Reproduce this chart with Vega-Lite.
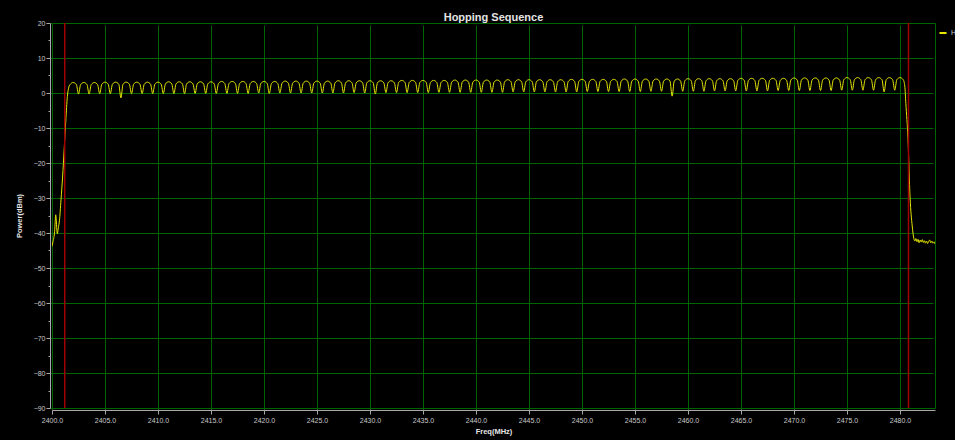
{
  "$schema": "https://vega.github.io/schema/vega-lite/v6.json",
  "autosize": "none",
  "width": 883,
  "height": 385,
  "padding": {"left": 52, "top": 23, "right": 20, "bottom": 32},
  "background": "#000000",
  "title": {"text": "Hopping Sequence", "font": "Liberation Sans", "fontSize": 11, "fontWeight": "bold", "color": "#e4e4e4", "anchor": "middle", "offset": -4},
  "config": {
    "view": {"fill": "#000000", "stroke": "#006400", "strokeWidth": 1},
    "axis": {"labelFont": "Liberation Sans", "labelFontSize": 7, "labelColor": "#c8c8c8", "titleFont": "Liberation Sans", "titleFontSize": 7.5, "titleFontWeight": "bold", "titleColor": "#e8e8e8", "domainColor": "#a8a8a8", "tickColor": "#a8a8a8", "gridWidth": 1, "offset": 2, "labelOverlap": false, "labelFlush": false}
  },
  "datasets": {
    "sig": [
      {"f":2400.0,"p":-43.8},{"f":2400.1,"p":-42.4},{"f":2400.25,"p":-39.5},{"f":2400.35,"p":-34.8},{"f":2400.5,"p":-40.2},{"f":2400.6,"p":-38.5},{"f":2400.7,"p":-36.5},{"f":2400.85,"p":-30.5},{"f":2401.0,"p":-24},{"f":2401.15,"p":-16},{"f":2401.3,"p":-8},{"f":2401.45,"p":-1},{"f":2401.55,"p":1.2},
      {"f":2401.7,"p":2.4},{"f":2402,"p":3.0},{"f":2402.3,"p":2.4},{"f":2402.5,"p":-0.3},
      {"f":2402.7,"p":2.4},{"f":2403,"p":3.0},{"f":2403.3,"p":2.4},{"f":2403.5,"p":-0.3},
      {"f":2403.7,"p":2.4},{"f":2404,"p":3.0},{"f":2404.3,"p":2.4},{"f":2404.5,"p":-0.2},
      {"f":2404.7,"p":2.5},{"f":2405,"p":3.1},{"f":2405.3,"p":2.5},{"f":2405.5,"p":-0.2},
      {"f":2405.7,"p":2.5},{"f":2406,"p":3.1},{"f":2406.3,"p":2.5},{"f":2406.5,"p":-1.4},
      {"f":2406.7,"p":2.5},{"f":2407,"p":3.1},{"f":2407.3,"p":2.5},{"f":2407.5,"p":-0.2},
      {"f":2407.7,"p":2.5},{"f":2408,"p":3.1},{"f":2408.3,"p":2.5},{"f":2408.5,"p":-0.2},
      {"f":2408.7,"p":2.5},{"f":2409,"p":3.1},{"f":2409.3,"p":2.5},{"f":2409.5,"p":-0.2},
      {"f":2409.7,"p":2.5},{"f":2410,"p":3.1},{"f":2410.3,"p":2.5},{"f":2410.5,"p":-0.2},
      {"f":2410.7,"p":2.6},{"f":2411,"p":3.2},{"f":2411.3,"p":2.6},{"f":2411.5,"p":-0.2},
      {"f":2411.7,"p":2.6},{"f":2412,"p":3.2},{"f":2412.3,"p":2.6},{"f":2412.5,"p":-0.2},
      {"f":2412.7,"p":2.6},{"f":2413,"p":3.2},{"f":2413.3,"p":2.6},{"f":2413.5,"p":-0.1},
      {"f":2413.7,"p":2.6},{"f":2414,"p":3.2},{"f":2414.3,"p":2.6},{"f":2414.5,"p":-0.1},
      {"f":2414.7,"p":2.6},{"f":2415,"p":3.2},{"f":2415.3,"p":2.6},{"f":2415.5,"p":-0.1},
      {"f":2415.7,"p":2.7},{"f":2416,"p":3.3},{"f":2416.3,"p":2.7},{"f":2416.5,"p":-0.1},
      {"f":2416.7,"p":2.7},{"f":2417,"p":3.3},{"f":2417.3,"p":2.7},{"f":2417.5,"p":-0.1},
      {"f":2417.7,"p":2.7},{"f":2418,"p":3.3},{"f":2418.3,"p":2.7},{"f":2418.5,"p":-0.1},
      {"f":2418.7,"p":2.7},{"f":2419,"p":3.3},{"f":2419.3,"p":2.7},{"f":2419.5,"p":0.0},
      {"f":2419.7,"p":2.7},{"f":2420,"p":3.3},{"f":2420.3,"p":2.7},{"f":2420.5,"p":-0.1},
      {"f":2420.7,"p":2.7},{"f":2421,"p":3.3},{"f":2421.3,"p":2.7},{"f":2421.5,"p":0.0},
      {"f":2421.7,"p":2.8},{"f":2422,"p":3.4},{"f":2422.3,"p":2.8},{"f":2422.5,"p":0.0},
      {"f":2422.7,"p":2.8},{"f":2423,"p":3.4},{"f":2423.3,"p":2.8},{"f":2423.5,"p":0.0},
      {"f":2423.7,"p":2.8},{"f":2424,"p":3.4},{"f":2424.3,"p":2.8},{"f":2424.5,"p":0.0},
      {"f":2424.7,"p":2.8},{"f":2425,"p":3.4},{"f":2425.3,"p":2.8},{"f":2425.5,"p":0.0},
      {"f":2425.7,"p":2.8},{"f":2426,"p":3.4},{"f":2426.3,"p":2.8},{"f":2426.5,"p":0.0},
      {"f":2426.7,"p":2.9},{"f":2427,"p":3.5},{"f":2427.3,"p":2.9},{"f":2427.5,"p":0.0},
      {"f":2427.7,"p":2.9},{"f":2428,"p":3.5},{"f":2428.3,"p":2.9},{"f":2428.5,"p":0.1},
      {"f":2428.7,"p":2.9},{"f":2429,"p":3.5},{"f":2429.3,"p":2.9},{"f":2429.5,"p":0.0},
      {"f":2429.7,"p":2.9},{"f":2430,"p":3.5},{"f":2430.3,"p":2.9},{"f":2430.5,"p":-0.3},
      {"f":2430.7,"p":2.9},{"f":2431,"p":3.5},{"f":2431.3,"p":2.9},{"f":2431.5,"p":0.1},
      {"f":2431.7,"p":2.9},{"f":2432,"p":3.5},{"f":2432.3,"p":2.9},{"f":2432.5,"p":0.1},
      {"f":2432.7,"p":3.0},{"f":2433,"p":3.6},{"f":2433.3,"p":3.0},{"f":2433.5,"p":0.1},
      {"f":2433.7,"p":3.0},{"f":2434,"p":3.6},{"f":2434.3,"p":3.0},{"f":2434.5,"p":0.1},
      {"f":2434.7,"p":3.0},{"f":2435,"p":3.6},{"f":2435.3,"p":3.0},{"f":2435.5,"p":0.1},
      {"f":2435.7,"p":3.0},{"f":2436,"p":3.6},{"f":2436.3,"p":3.0},{"f":2436.5,"p":0.2},
      {"f":2436.7,"p":3.0},{"f":2437,"p":3.6},{"f":2437.3,"p":3.0},{"f":2437.5,"p":0.2},
      {"f":2437.7,"p":3.1},{"f":2438,"p":3.7},{"f":2438.3,"p":3.1},{"f":2438.5,"p":0.2},
      {"f":2438.7,"p":3.1},{"f":2439,"p":3.7},{"f":2439.3,"p":3.1},{"f":2439.5,"p":0.2},
      {"f":2439.7,"p":3.1},{"f":2440,"p":3.7},{"f":2440.3,"p":3.1},{"f":2440.5,"p":0.2},
      {"f":2440.7,"p":3.1},{"f":2441,"p":3.7},{"f":2441.3,"p":3.1},{"f":2441.5,"p":0.2},
      {"f":2441.7,"p":3.1},{"f":2442,"p":3.7},{"f":2442.3,"p":3.1},{"f":2442.5,"p":0.2},
      {"f":2442.7,"p":3.2},{"f":2443,"p":3.8},{"f":2443.3,"p":3.2},{"f":2443.5,"p":0.3},
      {"f":2443.7,"p":3.2},{"f":2444,"p":3.8},{"f":2444.3,"p":3.2},{"f":2444.5,"p":0.3},
      {"f":2444.7,"p":3.2},{"f":2445,"p":3.8},{"f":2445.3,"p":3.2},{"f":2445.5,"p":0.3},
      {"f":2445.7,"p":3.2},{"f":2446,"p":3.8},{"f":2446.3,"p":3.2},{"f":2446.5,"p":0.3},
      {"f":2446.7,"p":3.2},{"f":2447,"p":3.8},{"f":2447.3,"p":3.2},{"f":2447.5,"p":0.3},
      {"f":2447.7,"p":3.2},{"f":2448,"p":3.8},{"f":2448.3,"p":3.2},{"f":2448.5,"p":0.3},
      {"f":2448.7,"p":3.3},{"f":2449,"p":3.9},{"f":2449.3,"p":3.3},{"f":2449.5,"p":0.3},
      {"f":2449.7,"p":3.3},{"f":2450,"p":3.9},{"f":2450.3,"p":3.3},{"f":2450.5,"p":0.4},
      {"f":2450.7,"p":3.3},{"f":2451,"p":3.9},{"f":2451.3,"p":3.3},{"f":2451.5,"p":0.4},
      {"f":2451.7,"p":3.3},{"f":2452,"p":3.9},{"f":2452.3,"p":3.3},{"f":2452.5,"p":0.4},
      {"f":2452.7,"p":3.3},{"f":2453,"p":3.9},{"f":2453.3,"p":3.3},{"f":2453.5,"p":0.4},
      {"f":2453.7,"p":3.4},{"f":2454,"p":4.0},{"f":2454.3,"p":3.4},{"f":2454.5,"p":0.4},
      {"f":2454.7,"p":3.4},{"f":2455,"p":4.0},{"f":2455.3,"p":3.4},{"f":2455.5,"p":0.4},
      {"f":2455.7,"p":3.4},{"f":2456,"p":4.0},{"f":2456.3,"p":3.4},{"f":2456.5,"p":0.5},
      {"f":2456.7,"p":3.4},{"f":2457,"p":4.0},{"f":2457.3,"p":3.4},{"f":2457.5,"p":0.5},
      {"f":2457.7,"p":3.4},{"f":2458,"p":4.0},{"f":2458.3,"p":3.4},{"f":2458.5,"p":-0.9},
      {"f":2458.7,"p":3.4},{"f":2459,"p":4.0},{"f":2459.3,"p":3.4},{"f":2459.5,"p":0.5},
      {"f":2459.7,"p":3.5},{"f":2460,"p":4.1},{"f":2460.3,"p":3.5},{"f":2460.5,"p":0.5},
      {"f":2460.7,"p":3.5},{"f":2461,"p":4.1},{"f":2461.3,"p":3.5},{"f":2461.5,"p":0.5},
      {"f":2461.7,"p":3.5},{"f":2462,"p":4.1},{"f":2462.3,"p":3.5},{"f":2462.5,"p":0.6},
      {"f":2462.7,"p":3.5},{"f":2463,"p":4.1},{"f":2463.3,"p":3.5},{"f":2463.5,"p":0.6},
      {"f":2463.7,"p":3.5},{"f":2464,"p":4.1},{"f":2464.3,"p":3.5},{"f":2464.5,"p":0.6},
      {"f":2464.7,"p":3.6},{"f":2465,"p":4.2},{"f":2465.3,"p":3.6},{"f":2465.5,"p":0.6},
      {"f":2465.7,"p":3.6},{"f":2466,"p":4.2},{"f":2466.3,"p":3.6},{"f":2466.5,"p":0.6},
      {"f":2466.7,"p":3.6},{"f":2467,"p":4.2},{"f":2467.3,"p":3.6},{"f":2467.5,"p":0.6},
      {"f":2467.7,"p":3.6},{"f":2468,"p":4.2},{"f":2468.3,"p":3.6},{"f":2468.5,"p":0.7},
      {"f":2468.7,"p":3.6},{"f":2469,"p":4.2},{"f":2469.3,"p":3.6},{"f":2469.5,"p":0.7},
      {"f":2469.7,"p":3.7},{"f":2470,"p":4.3},{"f":2470.3,"p":3.7},{"f":2470.5,"p":0.7},
      {"f":2470.7,"p":3.7},{"f":2471,"p":4.3},{"f":2471.3,"p":3.7},{"f":2471.5,"p":0.7},
      {"f":2471.7,"p":3.7},{"f":2472,"p":4.3},{"f":2472.3,"p":3.7},{"f":2472.5,"p":0.7},
      {"f":2472.7,"p":3.7},{"f":2473,"p":4.3},{"f":2473.3,"p":3.7},{"f":2473.5,"p":0.7},
      {"f":2473.7,"p":3.7},{"f":2474,"p":4.3},{"f":2474.3,"p":3.7},{"f":2474.5,"p":0.8},
      {"f":2474.7,"p":3.8},{"f":2475,"p":4.4},{"f":2475.3,"p":3.8},{"f":2475.5,"p":0.8},
      {"f":2475.7,"p":3.8},{"f":2476,"p":4.4},{"f":2476.3,"p":3.8},{"f":2476.5,"p":0.8},
      {"f":2476.7,"p":3.8},{"f":2477,"p":4.4},{"f":2477.3,"p":3.8},{"f":2477.5,"p":0.8},
      {"f":2477.7,"p":3.8},{"f":2478,"p":4.4},{"f":2478.3,"p":3.8},{"f":2478.5,"p":0.3},
      {"f":2478.7,"p":3.8},{"f":2479,"p":4.4},{"f":2479.3,"p":3.8},{"f":2479.5,"p":0.8},
      {"f":2479.7,"p":3.8},{"f":2480,"p":4.4},{"f":2480.3,"p":3.8},
      {"f":2480.45,"p":2.0},{"f":2480.55,"p":-3},{"f":2480.75,"p":-13},{"f":2480.95,"p":-30},{"f":2481.15,"p":-38},{"f":2481.3,"p":-41.5},
      {"f":2481.4,"p":-42.3},{"f":2481.5,"p":-41.6},{"f":2481.6,"p":-42.5},{"f":2481.7,"p":-41.8},{"f":2481.8,"p":-42.8},{"f":2481.9,"p":-42.0},{"f":2482.0,"p":-42.6},{"f":2482.1,"p":-41.9},{"f":2482.2,"p":-42.7},{"f":2482.3,"p":-42.2},{"f":2482.4,"p":-42.9},{"f":2482.5,"p":-42.3},{"f":2482.6,"p":-43.0},{"f":2482.7,"p":-42.4},{"f":2482.8,"p":-42.0},{"f":2482.9,"p":-42.8},{"f":2483.0,"p":-42.3},{"f":2483.1,"p":-42.9},{"f":2483.2,"p":-42.5},{"f":2483.3,"p":-43.2}
    ],
    "red": [{"f": 2401.2}, {"f": 2480.8}]
  },
  "layer": [
    {
      "data": {"name": "sig"},
      "mark": {"type": "line", "interpolate": "monotone", "strokeWidth": 1, "clip": true},
      "encoding": {
        "x": {"field": "f", "type": "quantitative", "scale": {"domain": [2400, 2483.3], "nice": false, "zero": false},
          "axis": {"title": "Freq(MHz)", "titlePadding": 4, "format": ".1f", "labelPadding": 2,
            "values": [2400,2402.5,2405,2407.5,2410,2412.5,2415,2417.5,2420,2422.5,2425,2427.5,2430,2432.5,2435,2437.5,2440,2442.5,2445,2447.5,2450,2452.5,2455,2457.5,2460,2462.5,2465,2467.5,2470,2472.5,2475,2477.5,2480,2482.5],
            "labelExpr": "datum.value % 5 == 0 ? datum.label : ''",
            "tickSize": {"condition": {"test": "datum.value % 5 != 0", "value": 2}, "value": 4},
            "gridColor": {"condition": {"test": "datum.value % 5 != 0", "value": "transparent"}, "value": "#006400"}}},
        "y": {"field": "p", "type": "quantitative", "scale": {"domain": [-90, 20], "nice": false, "zero": false},
          "axis": {"title": "Power(dBm)", "titlePadding": 10, "format": "d", "labelPadding": 1,
            "values": [-90,-85,-80,-75,-70,-65,-60,-55,-50,-45,-40,-35,-30,-25,-20,-15,-10,-5,0,5,10,15,20],
            "labelExpr": "datum.value % 10 == 0 ? datum.label : ''",
            "tickSize": {"condition": {"test": "datum.value % 10 != 0", "value": 2}, "value": 4},
            "gridColor": {"condition": {"test": "datum.value % 10 != 0", "value": "transparent"}, "value": "#006400"}}},
        "color": {"datum": "Hopping Sequence", "type": "nominal", "scale": {"range": ["#e6e600"]},
          "legend": {"title": null, "orient": "none", "legendX": 886, "legendY": 5, "symbolType": "stroke", "symbolSize": 50, "symbolStrokeWidth": 2, "labelFont": "Liberation Sans", "labelFontSize": 7, "labelColor": "#d0d0d0", "labelOffset": 3}}
      }
    },
    {
      "data": {"name": "red"},
      "mark": {"type": "rule", "color": "#a00000", "strokeWidth": 1.5},
      "encoding": {"x": {"field": "f", "type": "quantitative"}}
    }
  ]
}
